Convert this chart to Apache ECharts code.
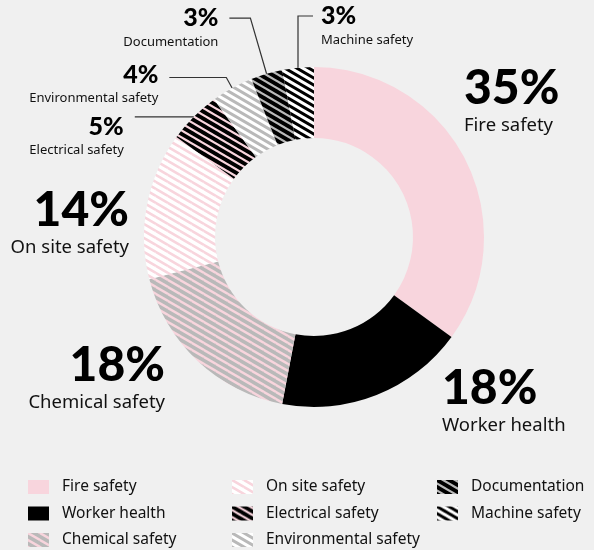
<!DOCTYPE html>
<html>
<head>
<meta charset="utf-8">
<script src="https://cdn.jsdelivr.net/npm/echarts@6/dist/echarts.min.js"></script>
<style>
  html, body { margin: 0; padding: 0; background: #f0f0f0; }
  #main { width: 594px; height: 550px; }
</style>
</head>
<body>
<div id="main"></div>
<script>
const categories = ['Fire safety', 'Worker health', 'Chemical safety', 'On site safety',
  'Electrical safety', 'Environmental safety', 'Documentation', 'Machine safety'];
const shares = [35, 18, 18, 14, 5, 4, 3, 3];

const pink = '#f8d5dd';
const grey = '#b9b9b9';

// diagonal stripe tile, "\" direction
function stripes(bg, fg, w) {
  let c = document.createElement('canvas');
  c.width = 12;
  c.height = 7;
  let ctx = c.getContext('2d');
  ctx.fillStyle = bg;
  ctx.fillRect(0, 0, 12, 7);
  ctx.strokeStyle = fg;
  ctx.lineWidth = w;
  ctx.beginPath();
  for (let dx of [-12, 0, 12]) {
    for (let dy of [-7, 0, 7]) {
      ctx.moveTo(dx, dy);
      ctx.lineTo(dx + 12, dy + 7);
    }
  }
  ctx.stroke();
  return { image: c, repeat: 'repeat' };
}

const fills = [
  pink,
  '#000000',
  stripes(grey, pink, 2.4),
  stripes('#ffffff', pink, 2.6),
  stripes(pink, '#000000', 3.8),
  stripes('#ffffff', grey, 3),
  stripes(grey, '#000000', 3.8),
  stripes('#ffffff', '#000000', 3)
];

// big labels sit at fixed spots, the small ones hang on leader lines
const bigLabels = [
  { x: 464, y: 101, align: 'left' },
  { x: 442, y: 401, align: 'left' },
  { x: 165, y: 378, align: 'right' },
  { x: 129, y: 223, align: 'right' }
];
const lineLen = [0, 0, 0, 0, 0, 12, 58, 52];
const lineLen2 = [0, 0, 0, 0, 59, 57, 21, 15];
// top padding moves the small label block against its leader line
const labelPad = [0, 0, 0, 0, 40, 14, 20, 20];

let chart = echarts.init(document.getElementById('main'));

let pieData = categories.map((name, i) => {
  let big = i < 4;
  return {
    name: name,
    value: shares[i],
    itemStyle: { color: fills[i] },
    label: big ? {} : { padding: [labelPad[i], 0, 0, 0] },
    labelLine: big ? { show: false } : { show: true, length: lineLen[i], length2: lineLen2[i] }
  };
});

let legendBase = {
  orient: 'vertical',
  top: 479,
  height: 90,
  icon: 'rect',
  itemWidth: 21,
  itemHeight: 14,
  itemGap: 10.5,
  padding: 0,
  selectedMode: false,
  textStyle: {
    fontFamily: 'Noto Sans',
    fontSize: 15.5,
    lineHeight: 14,
    color: '#111',
    padding: [0, 0, 0, 8]
  }
};

let option = {
  backgroundColor: '#f0f0f0',
  animation: false,
  legend: [
    Object.assign({}, legendBase, { left: 28, data: categories.slice(0, 3) }),
    Object.assign({}, legendBase, { left: 232, data: categories.slice(3, 6) }),
    Object.assign({}, legendBase, { left: 437, data: categories.slice(6) })
  ],
  series: [
    {
      type: 'pie',
      center: [314, 237],
      radius: [99, 170],
      startAngle: 90,
      clockwise: true,
      avoidLabelOverlap: false,
      itemStyle: { borderWidth: 0 },
      emphasis: { disabled: true },
      label: {
        show: true,
        position: 'outside',
        distanceToLabelLine: 11,
        formatter: p => p.dataIndex < 4
          ? '{P|' + p.value + '%}\n{N|' + p.name + '}'
          : '{p|' + p.value + '%}\n{n|' + p.name + '}',
        rich: {
          P: { fontFamily: 'Lato', fontWeight: 900, fontSize: 48, lineHeight: 50, color: '#000' },
          N: { fontFamily: 'Noto Sans', fontSize: 18.5, lineHeight: 25, color: '#111' },
          p: { fontFamily: 'Lato', fontWeight: 900, fontSize: 25, lineHeight: 28, color: '#000' },
          n: { fontFamily: 'Noto Sans', fontSize: 13, lineHeight: 20, color: '#111' }
        }
      },
      labelLine: {
        lineStyle: { color: '#333', width: 1.2 }
      },
      labelLayout: params => {
        let i = params.dataIndex;
        if (i < 4) {
          return { x: bigLabels[i].x, y: bigLabels[i].y, align: bigLabels[i].align, verticalAlign: 'middle' };
        }
        if (i === 7 && params.labelLinePoints) {
          // machine safety: straight up, then turn right
          let p1 = params.labelLinePoints[0];
          let p2 = [p1[0], params.labelLinePoints[1][1]];
          let p3 = [p2[0] + lineLen2[7], p2[1]];
          return {
            x: p3[0] + 8,
            y: p3[1],
            align: 'left',
            verticalAlign: 'middle',
            labelLinePoints: [p1, p2, p3]
          };
        }
      },
      data: pieData
    }
  ]
};

chart.setOption(option);
</script>
</body>
</html>
